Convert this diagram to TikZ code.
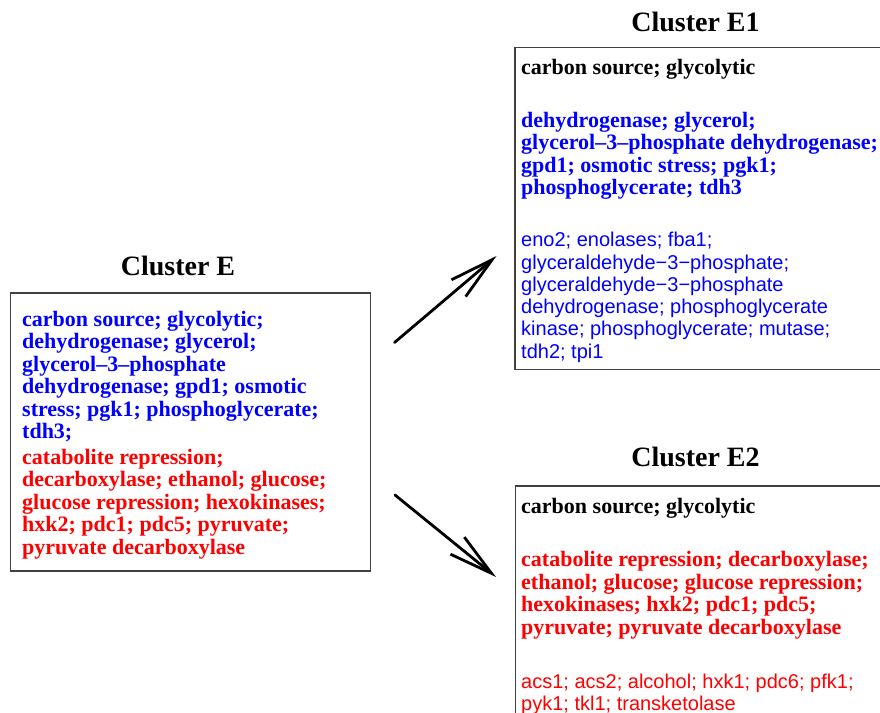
\documentclass[tikz,border=0pt]{standalone}
\usepackage{fontspec}
\setmainfont{Liberation Serif}
\newfontfamily\lightfont{Liberation Sans}
\usetikzlibrary{arrows.meta}

\begin{document}
\begin{tikzpicture}[x=1pt,y=-1pt,
            title node/.style={anchor=base,inner sep=0pt,font=\fontsize{28}{30}\selectfont\bfseries},
            cluster box/.style={draw=black!75,line width=1.1pt},
            term list/.style={anchor=base west,inner sep=0pt,align=left,font=\fontsize{22}{22.5}\selectfont\bfseries},
            gene list/.style={anchor=base west,inner sep=0pt,align=left,font=\fontsize{20}{22.3}\selectfont\lightfont},
            split arrow/.style={line width=2.8pt,line cap=round,-{Straight Barb[length=44pt,width=22pt]}},
            ]
            \useasboundingbox (0,0) rectangle (880,712);

            % parent cluster (multi-line nodes sit on their last baseline)
            \node[title node] (tE) at (178,275) {Cluster E};
            \draw[cluster box] (10.5,293) rectangle (370.5,571);
            \node[term list, text=blue] (Eblue) at (22,438.5) {carbon source; glycolytic;\\dehydrogenase; glycerol;\\glycerol–3–phosphate\\dehydrogenase; gpd1; osmotic\\stress; pgk1; phosphoglycerate;\\tdh3;};
            \node[term list, text=red] (Ered) at (22,554) {catabolite repression;\\decarboxylase; ethanol; glucose;\\glucose repression; hexokinases;\\hxk2; pdc1; pdc5; pyruvate;\\pyruvate decarboxylase};

            % cluster E1
            \node[title node] (tE1) at (695.5,31) {Cluster E1};
            \draw[cluster box] (515,47.5) rectangle (900,369.5);
            \node[term list] (E1black) at (521,74) {carbon source; glycolytic};
            \node[term list, text=blue] (E1blue) at (521,194.5) {dehydrogenase; glycerol;\\glycerol–3–phosphate dehydrogenase;\\gpd1; osmotic stress; pgk1;\\phosphoglycerate; tdh3};
            \node[gene list, text=blue] (E1genes) at (521,358.2) {eno2; enolases; fba1;\\glyceraldehyde−3−phosphate;\\glyceraldehyde−3−phosphate\\dehydrogenase; phosphoglycerate\\kinase; phosphoglycerate; mutase;\\tdh2; tpi1};

            % cluster E2
            \node[title node] (tE2) at (695.5,466) {Cluster E2};
            \draw[cluster box] (515.5,486) rectangle (900,740);
            \node[term list] (E2black) at (521,513) {carbon source; glycolytic};
            \node[term list, text=red] (E2red) at (521,634) {catabolite repression; decarboxylase;\\ethanol; glucose; glucose repression;\\hexokinases; hxk2; pdc1; pdc5;\\pyruvate; pyruvate decarboxylase};
            \node[gene list, text=red] (E2genes) at (521,710.3) {acs1; acs2; alcohol; hxk1; pdc6; pfk1;\\pyk1; tkl1; transketolase};

            % splits
            \coordinate (up from) at (394.5,342.5);
            \coordinate (up to) at (496.5,256);
            \coordinate (down from) at (395,495);
            \coordinate (down to) at (496,577);
            \draw[split arrow] (up from) -- (up to);
            \draw[split arrow] (down from) -- (down to);
\end{tikzpicture}
\end{document}
